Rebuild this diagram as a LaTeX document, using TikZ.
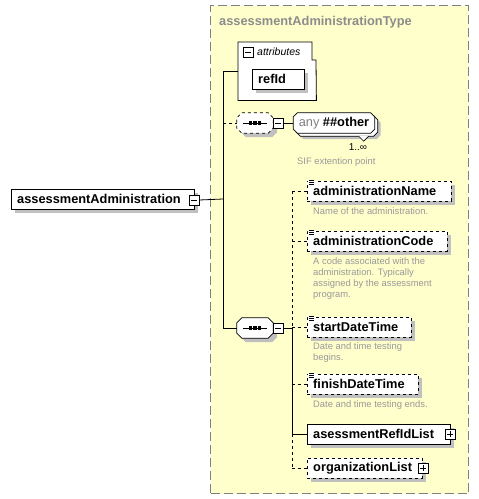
\documentclass[tikz,border=0pt]{standalone}
\usepackage{fontspec}
\setmainfont{Liberation Sans}
\usetikzlibrary{shadows,calc}
\definecolor{bgyellow}{HTML}{FFFFCC}
\definecolor{shade}{HTML}{C0C0C0}
\definecolor{desccol}{HTML}{999999}
\definecolor{titlecol}{HTML}{8C8C8C}
\tikzset{
  elem/.style={draw, fill=white, minimum height=20, inner xsep=6, inner ysep=0,
    text width=#1, align=left, anchor=west, font=\fontsize{12.8}{14}\selectfont\bfseries,
    drop shadow={shadow xshift=4pt, shadow yshift=-4pt, fill=shade, opacity=1}},
  optelem/.style={elem=#1, dashed},
  desc/.style={anchor=north west, inner sep=0, align=left, text=desccol,
    font=\fontsize{9.4}{11.2}\selectfont},
  pmbox/.style={draw, fill=white, minimum size=10, inner sep=0},
  minusbox/.style={pmbox, path picture={\draw
    ($(path picture bounding box.west)!0.2!(path picture bounding box.east)$) --
    ($(path picture bounding box.west)!0.8!(path picture bounding box.east)$);}},
  plusbox/.style={pmbox, path picture={\draw
    ($(path picture bounding box.west)!0.2!(path picture bounding box.east)$) --
    ($(path picture bounding box.west)!0.8!(path picture bounding box.east)$);
    \draw
    ($(path picture bounding box.north)!0.2!(path picture bounding box.south)$) --
    ($(path picture bounding box.north)!0.8!(path picture bounding box.south)$);}},
  seqbox/.style={rectangle, minimum width=36, minimum height=20, inner sep=0},
  anybox/.style={rectangle, minimum width=81, minimum height=20, inner sep=0},
  conn/.style={line width=0.8pt},
  optconn/.style={line width=0.8pt, dashed},
}
% octagon outline round a node: #1 options, #2 node, #3 chamfer, #4 shift
\newcommand\octo[4]{%
  \draw[#1] ($(#2.north west)+(#3,0)+#4$) -- ($(#2.north east)+(-#3,0)+#4$) --
    ($(#2.north east)+(0,#3)+#4$) -- ($(#2.south east)+(0,-#3)+#4$) --
    ($(#2.south east)+(-#3,0)+#4$) -- ($(#2.south west)+(#3,0)+#4$) --
    ($(#2.south west)+(0,-#3)+#4$) -- ($(#2.north west)+(0,#3)+#4$) -- cycle;}
\newcommand\eqicon[1]{%
  \fill[white] (#1.north west) ++(1,-1) rectangle ++(7,6);
  \foreach \k in {0,2,4} \draw[line width=0.7] (#1.north west) ++(2,\k) -- ++(5,0);}
\newcommand\seqdots[1]{%
  \draw[line width=1] (#1.center) ++(-12,0) -- ++(24,0);
  \foreach \k in {-4.5,0,4.5} \fill (#1.center) ++(\k-1.7,-1.7) rectangle ++(3.4,3.4);}
\begin{document}
\begin{tikzpicture}[x=1pt,y=-1pt]
\useasboundingbox (0,0) rectangle (479,499);
% type container
\node[draw=gray, fill=bgyellow, dash pattern=on 9pt off 4pt, line width=1,
  minimum width=258, minimum height=488, inner sep=0, anchor=north west] (type) at (210,5) {};
\node[anchor=west, inner sep=0, text=titlecol, font=\fontsize{12.8}{14}\selectfont\bfseries]
  (title) at (219,22) {assessmentAdministrationType};
% trunk
\coordinate (t1) at (223,71);
\coordinate (t2) at (223,123);
\coordinate (t3) at (223,328);
\coordinate (troot) at (223,199);
% root element
\node[elem=171] (root) at (11,199) {assessmentAdministration};
\node[minusbox] (rootm) at (194,200) {};
\draw[conn] (rootm.east) -- (troot);
\draw[conn] (t1) -- (t3);
% attributes
\node[anchor=north west, minimum width=78, minimum height=58, inner sep=0] (attr) at (238,42) {};
\draw[line width=0.8, fill=white] (attr.south west) -- (attr.north west) -- ++(74,0) -- ++(0,18) -- ++(4,0) -- (attr.south east) -- cycle;
\node[minusbox] (attrm) at (248,52) {};
\node[anchor=west, inner sep=0, font=\fontsize{10.5}{12}\selectfont\itshape] (attrlbl) at (257,52) {attributes};
\draw[conn] (t1) -- (attr.west |- t1);
\node[elem=40] (refid) at (252,79) {refId};
% any sequence
\node[seqbox] (seq1) at (255,123) {};
\octo{fill=shade, draw=none}{seq1}{5}{(4,4)}
\octo{fill=white, line width=0.8, dashed}{seq1}{5}{(0,0)}
\seqdots{seq1}
\node[minusbox] (seq1m) at (278,123) {};
\draw[optconn] (t2) -- (seq1.west);
\node[anybox, font=\fontsize{12.8}{14}\selectfont] (any) at (334,123) {};
\octo{fill=shade, draw=none}{any}{4}{(6,6)}
\octo{fill=white, line width=0.8}{any}{4}{(3,3)}
\octo{fill=white, line width=0.8}{any}{4}{(0,0)}
\node[font=\fontsize{12.8}{14}\selectfont, inner sep=0] (anytxt) at (any.center) {{\color{gray}any}\ \textbf{\#\#other}};
\draw[conn] (seq1m.east) -- (any.west);
\draw[line width=0.7, fill=white] ([xshift=-16]any.south east) ++(0,3) -- ++(5,5) -- ++(5,-5);
\node[inner sep=0, font=\fontsize{10}{12}\selectfont] (mult) at (358,147) {1..∞};
\node[desc, anchor=west] (anydesc) at (297,162) {SIF extention point};
% main sequence
\node[seqbox] (seq2) at (255,328) {};
\octo{fill=shade, draw=none}{seq2}{5}{(4,4)}
\octo{fill=white, line width=0.8}{seq2}{5}{(0,0)}
\seqdots{seq2}
\node[minusbox] (seq2m) at (278,328) {};
\draw[conn] (t3) -- (seq2.west);
\coordinate (b0) at (292,328);
\draw[conn] (seq2m.east) -- (b0);
% children
\node[optelem=132] (aname) at (307,191) {administrationName};
\eqicon{aname}
\node[desc] (anamed) at (313,207) {Name of the administration.};
\node[optelem=128] (acode) at (307,241) {administrationCode};
\eqicon{acode}
\node[desc] (acoded) at (313,257) {A code associated with the\\administration. Typically\\assigned by the assessment\\program.};
\node[optelem=92] (start) at (307,327) {startDateTime};
\eqicon{start}
\node[desc] (startd) at (313,342) {Date and time testing\\begins.};
\node[optelem=99] (finish) at (307,384) {finishDateTime};
\eqicon{finish}
\node[desc] (finishd) at (313,400) {Date and time testing ends.};
\node[elem=131] (reflist) at (307,434) {asessmentRefIdList};
\node[plusbox] (reflistp) at (450,434) {};
\node[optelem=103] (org) at (307,468) {organizationList};
\node[plusbox] (orgp) at (423,468) {};
% branch connectors
\coordinate (bt) at (292,191);
\draw[optconn] (bt) -- (b0);
\draw[conn] (b0) -- (b0 |- reflist.west);
\draw[optconn] (b0 |- reflist.west) -- (b0 |- org.west);
\draw[optconn] (b0 |- aname.west) -- (aname.west);
\draw[optconn] (b0 |- acode.west) -- (acode.west);
\draw[optconn] (b0 |- start.west) -- (start.west);
\draw[optconn] (b0 |- finish.west) -- (finish.west);
\draw[conn] (b0 |- reflist.west) -- (reflist.west);
\draw[optconn] (b0 |- org.west) -- (org.west);
\end{tikzpicture}
\end{document}
